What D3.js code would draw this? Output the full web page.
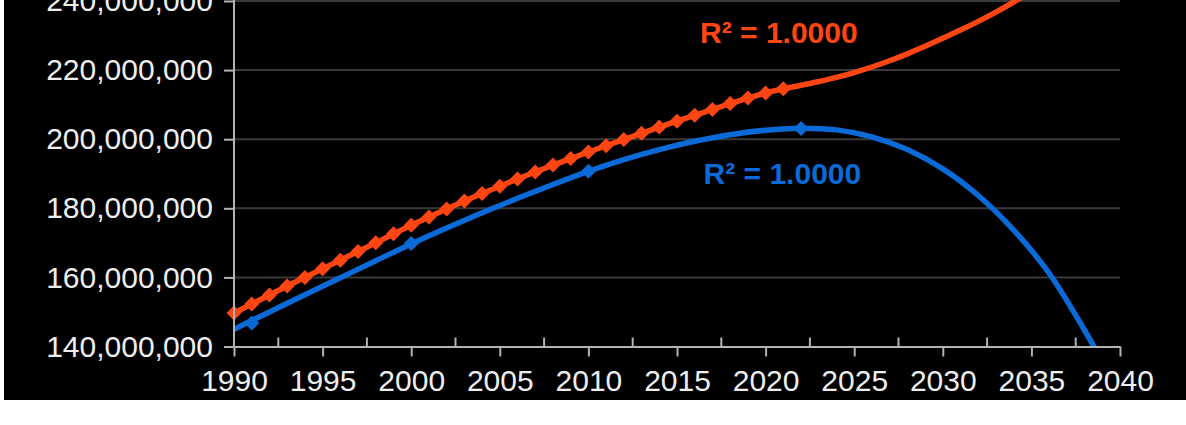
<!DOCTYPE html>
<html>
<head>
<meta charset="utf-8">
<script src="https://cdn.jsdelivr.net/npm/d3@7"></script>
<style>
  body { margin: 0; background: #fff; }
  svg { display: block; }
</style>
</head>
<body>
<div id="chart"></div>
<script>
// annual estimates (orange) and census counts (blue), in people
var estimateYears = d3.range(1990, 2022);
var estimateValues = [
  149.7, 152.3, 154.9, 157.5, 160.0, 162.5, 165.0, 167.5, 170.0, 172.6,
  175.1, 177.5, 179.8, 182.1, 184.3, 186.4, 188.5, 190.5, 192.5, 194.4,
  196.3, 198.1, 199.9, 201.7, 203.5, 205.2, 206.9, 208.6, 210.3, 211.9,
  213.4, 214.6
].map(v => v * 1e6);

var censusYears = [1991, 2000, 2010, 2022];
var censusValues = [146.8, 169.8, 190.7, 203.1].map(v => v * 1e6);

// trend lines
var orangeTrendYears = [2021, 2022, 2023, 2024, 2025, 2026, 2027, 2028, 2029, 2030, 2031, 2032, 2033, 2034, 2035, 2036];
var orangeTrendValues = [214.6, 215.6, 216.7, 217.9, 219.3, 220.9, 222.7, 224.7, 226.9, 229.2, 231.6, 234.1, 236.8, 239.7, 242.8, 246.1].map(v => v * 1e6);

var blueTrendYears = [1990, 1992, 1994, 1996, 1998, 2000, 2002, 2004, 2006, 2008, 2010, 2012, 2014, 2016, 2018, 2020, 2022, 2024, 2026, 2028, 2030, 2032, 2034, 2036, 2038, 2039];
var blueTrendValues = [145.0, 150.0, 155.0, 159.9, 164.8, 169.7, 174.3, 178.7, 182.9, 186.9, 190.7, 194.1, 197.0, 199.4, 201.3, 202.6, 203.2, 202.7, 200.7, 197.0, 191.4, 183.7, 173.7, 161.2, 144.7, 135.6].map(v => v * 1e6);

var yTicks = [140e6, 160e6, 180e6, 200e6, 220e6, 240e6];
var xTicks = [1990, 1995, 2000, 2005, 2010, 2015, 2020, 2025, 2030, 2035, 2040];
var xMinorTicks = [1992.5, 1997.5, 2002.5, 2007.5, 2012.5, 2017.5, 2022.5, 2027.5, 2032.5, 2037.5];

// R² labels: [year, value] of the text's left baseline
var r2Labels = [
  { text: 'R² = 1.0000', year: 2016.3, value: 227.8e6, color: '#ff4512' },
  { text: 'R² = 1.0000', year: 2016.5, value: 187.0e6, color: '#0a6bd8' }
];

var width = 1186,
    height = 425;

var orange = '#ff4512',
    blue = '#0a6bd8';

var svg = d3.select('#chart')
  .append('svg')
  .attr('width', width)
  .attr('height', height);

svg.append('rect')
  .attr('x', 4)
  .attr('y', 0)
  .attr('width', width - 4)
  .attr('height', 400)
  .attr('fill', '#000');

var x = d3.scaleLinear().domain([1990, 2040]).range([234, 1120]);
var y = d3.scaleLinear().domain([140e6, 240e6]).range([346.5, 1]);

// horizontal grid
svg.append('g')
  .selectAll('line')
  .data(yTicks.slice(1))
  .enter()
  .append('line')
  .attr('x1', x(1990))
  .attr('x2', x(2040))
  .attr('y1', d => y(d))
  .attr('y2', d => y(d))
  .attr('stroke', '#3a3a3a')
  .attr('stroke-width', 2);

// clip to the plot area (open at the top)
svg.append('clipPath')
  .attr('id', 'plot')
  .append('rect')
  .attr('x', x(1990))
  .attr('y', -200)
  .attr('width', x(2040) - x(1990))
  .attr('height', y(140e6) + 200);

var plot = svg.append('g').attr('clip-path', 'url(#plot)');

var line = d3.line()
  .x(d => x(d[0]))
  .y(d => y(d[1]));

var smooth = d3.line()
  .x(d => x(d[0]))
  .y(d => y(d[1]))
  .curve(d3.curveCatmullRom);

// blue trend
plot.append('path')
  .datum(d3.zip(blueTrendYears, blueTrendValues))
  .attr('d', smooth)
  .attr('fill', 'none')
  .attr('stroke', blue)
  .attr('stroke-width', 5.5);

// orange series + trend extension
plot.append('path')
  .datum(d3.zip(estimateYears, estimateValues))
  .attr('d', line)
  .attr('fill', 'none')
  .attr('stroke', orange)
  .attr('stroke-width', 5.5);

plot.append('path')
  .datum(d3.zip(orangeTrendYears, orangeTrendValues))
  .attr('d', smooth)
  .attr('fill', 'none')
  .attr('stroke', orange)
  .attr('stroke-width', 5.5);

function diamond(r) {
  return 'M0,' + (-r) + 'L' + r + ',0L0,' + r + 'L' + (-r) + ',0Z';
}

svg.append('g')
  .selectAll('path')
  .data(d3.zip(censusYears, censusValues))
  .enter()
  .append('path')
  .attr('d', diamond(7.5))
  .attr('transform', d => 'translate(' + x(d[0]) + ',' + y(d[1]) + ')')
  .attr('fill', blue);

svg.append('g')
  .selectAll('path')
  .data(d3.zip(estimateYears, estimateValues))
  .enter()
  .append('path')
  .attr('d', diamond(7.5))
  .attr('transform', d => 'translate(' + x(d[0]) + ',' + y(d[1]) + ')')
  .attr('fill', orange);

// y axis
var yAxis = svg.append('g')
  .attr('transform', 'translate(' + x(1990) + ',0)')
  .call(d3.axisLeft(y)
    .tickValues(yTicks)
    .tickFormat(d3.format(','))
    .tickSize(10)
    .tickSizeOuter(0)
    .tickPadding(11));

yAxis.select('.domain').attr('d', 'M0,0V' + y(140e6));

// x axis
var xAxis = svg.append('g')
  .attr('transform', 'translate(0,' + y(140e6) + ')')
  .call(d3.axisBottom(x)
    .tickValues(xTicks)
    .tickFormat(d3.format('d'))
    .tickSize(10)
    .tickSizeOuter(0)
    .tickPadding(13));

xAxis.selectAll('.minor')
  .data(xMinorTicks)
  .enter()
  .append('line')
  .attr('class', 'minor')
  .attr('x1', d => x(d))
  .attr('x2', d => x(d))
  .attr('y1', 0)
  .attr('y2', -9);

[yAxis, xAxis].forEach(function(a) {
  a.attr('font-family', '"Liberation Sans", Arial, sans-serif')
   .attr('font-size', 30);
  a.selectAll('.domain, line').attr('stroke', '#b3b3b3').attr('stroke-width', 2);
  a.selectAll('text').attr('fill', '#eeeeee');
});

svg.append('g')
  .selectAll('text')
  .data(r2Labels)
  .enter()
  .append('text')
  .attr('x', d => x(d.year))
  .attr('y', d => y(d.value))
  .attr('fill', d => d.color)
  .attr('font-family', '"Liberation Sans", Arial, sans-serif')
  .attr('font-weight', 'bold')
  .attr('font-size', 30)
  .text(d => d.text);
</script>
</body>
</html>
